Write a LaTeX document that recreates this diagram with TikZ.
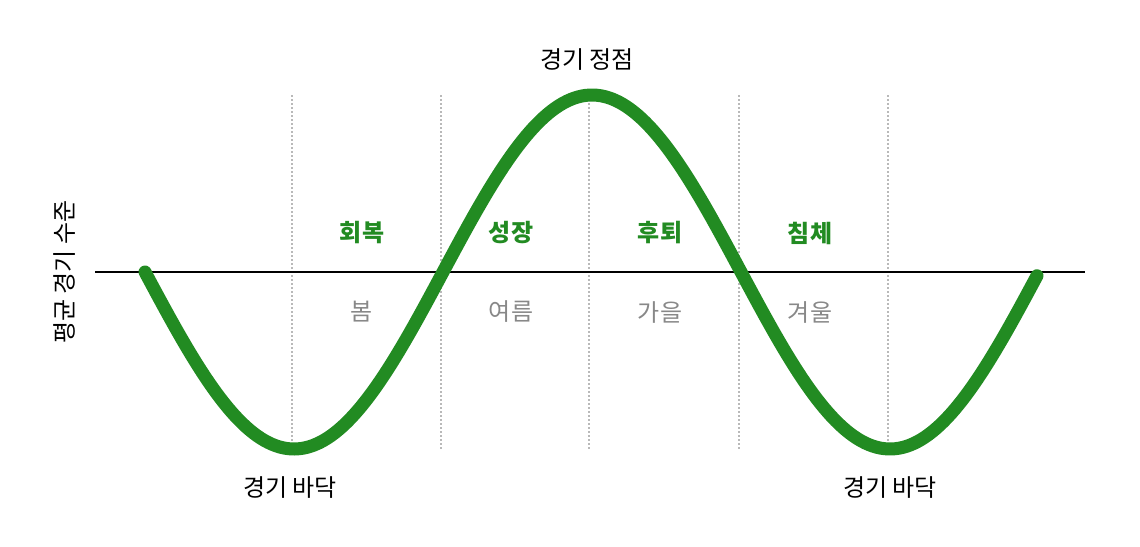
\documentclass[tikz,border=0pt]{standalone}
\usepackage{fontspec}
\setmainfont{Noto Sans CJK KR}

\definecolor{curvegreen}{RGB}{34,139,34}
\definecolor{seasongray}{RGB}{136,136,136}
\definecolor{gridgray}{RGB}{185,185,185}

\tikzset{
    label/.style={font=\fontsize{24}{28}\selectfont, text=black, inner sep=0pt},
    phase/.style={label, font=\fontsize{24}{28}\selectfont\bfseries, text=curvegreen},
    season/.style={label, text=seasongray},
    gridline/.style={gridgray, line width=1.8pt, dash pattern=on 2pt off 2pt},
    cycle/.style={curvegreen, line width=13pt, line cap=round}
}

\begin{document}
\begin{tikzpicture}[x=1pt, y=-1pt]
    \useasboundingbox (0,0) rectangle (1140,546);

    % Dotted phase borders
    \foreach \x in {292,441,589,739,888} {
        \draw[gridline] (\x,95) -- (\x,450);
    }

    % Average level
    \draw[line width=2pt] (95,272) -- (1085,272);

    % Business cycle
    \draw[cycle] plot[domain=145:1037, samples=240] (\x, {272 + 177*sin((\x-145)/596*360)});

    % Peak and troughs
    \node[label] (peak) at (587,60) {경기 정점};
    \node[label] (troughA) at (290,488) {경기 바닥};
    \node[label] (troughB) at (890,488) {경기 바닥};

    % Phases and seasons
    \foreach \x/\ph/\se [count=\i] in {362/회복/봄, 511/성장/여름, 660/후퇴/가을, 810/침체/겨울} {
        \node[phase] (phase\i) at (\x,233) {\ph};
        \node[season] (season\i) at (\x,312) {\se};
    }

    % Axis label
    \node[label, rotate=90] (level) at (65,272) {평균 경기 수준};
\end{tikzpicture}
\end{document}
